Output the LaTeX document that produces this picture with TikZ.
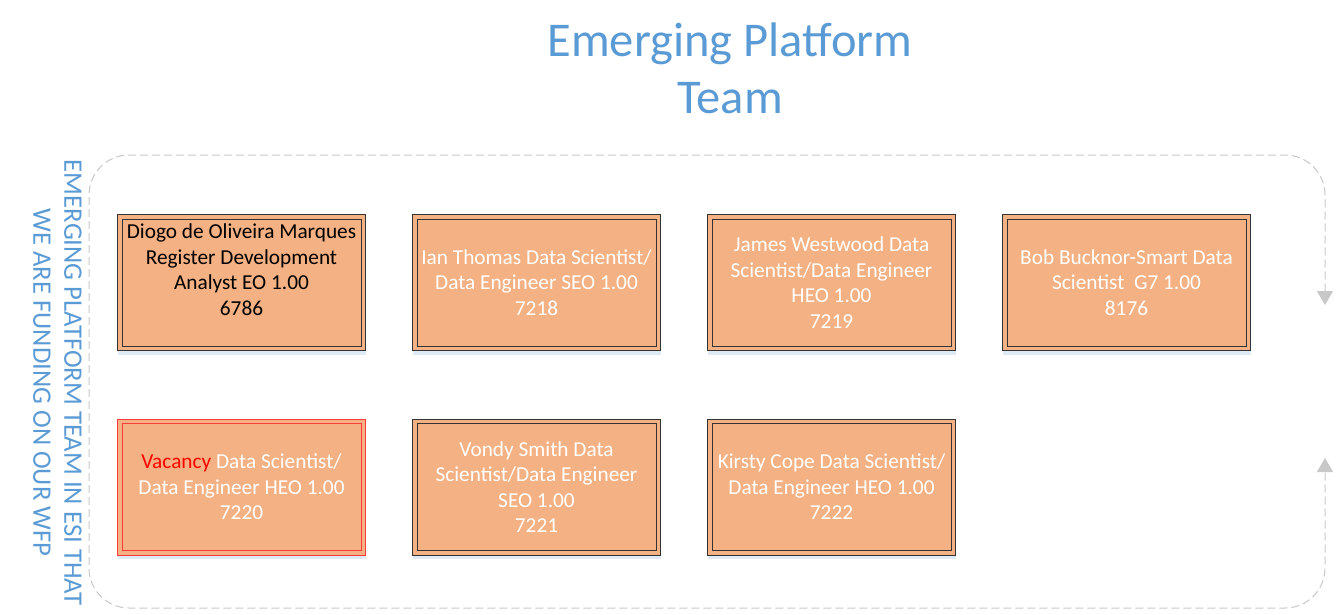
\documentclass[tikz,border=0pt]{standalone}
\usepackage{fontspec}
\setmainfont{Carlito}
\usepackage{tikz}
\usetikzlibrary{arrows.meta}
\usetikzlibrary{shadows}

\definecolor{postfill}{HTML}{F4B183}
\definecolor{titleblue}{HTML}{5B9BD5}
\definecolor{loopgray}{HTML}{C8C8C8}
\definecolor{glowblue}{HTML}{C9DCF0}
\definecolor{vacantred}{HTML}{FF3B3B}

\tikzset{
  postbox/.style={draw=black!80, line width=0.9pt, fill=postfill,
    minimum width=248pt, minimum height=136pt, inner sep=0pt,
    align=center, text=white, font=\fontsize{21.3}{25.5}\selectfont,
    drop shadow={shadow xshift=0pt, shadow yshift=-4pt, fill=glowblue, opacity=0.6}},
  vacantbox/.style={postbox, draw=vacantred},
  innerframe/.style={draw=black!80, line width=0.9pt},
  loopline/.style={draw=loopgray, line width=1pt, dash pattern=on 8pt off 4pt,
    rounded corners=40pt},
}

\begin{document}
\begin{tikzpicture}[x=1pt, y=-1pt]
\useasboundingbox (0,0) rectangle (1336,614);

\node[text=titleblue, align=center, font=\fontsize{48.5}{57}\selectfont] (title) at (730,68) {Emerging Platform\\Team};

\node[text=titleblue, align=center, rotate=-90, font=\fontsize{26.7}{31}\selectfont] (side) at (57.5,382.5) {EMERGING PLATFORM TEAM IN ESI THAT\\WE ARE FUNDING ON OUR WFP};

\coordinate (loopa) at (1325,305);
\coordinate (loopb) at (1325,458);
\draw[loopline, {Triangle[width=16pt,length=14pt,fill=loopgray]}-{Triangle[width=16pt,length=14pt,fill=loopgray]}]
  (loopa) -- (1325,155) -- (89,155) -- (89,608) -- (1325,608) -- (loopb);

\node[postbox, text=black] (diogo) at (241.5,282.5) {Diogo de Oliveira Marques\\Register Development\\Analyst EO 1.00\\6786\\\mbox{}};
\node[postbox] (ian) at (536.5,282.5) {Ian Thomas Data Scientist/\\Data Engineer SEO 1.00\\7218};
\node[postbox] (james) at (831.5,282.5) {James Westwood Data\\Scientist/Data Engineer\\HEO 1.00\\7219};
\node[postbox] (bob) at (1126.5,282.5) {Bob Bucknor-Smart Data\\Scientist\ \ G7 1.00\\8176};

\node[vacantbox] (vacancy) at (241.5,487) {\textcolor{red}{Vacancy} Data Scientist/\\Data Engineer HEO 1.00\\7220};
\node[postbox] (vondy) at (536.5,487) {Vondy Smith Data\\Scientist/Data Engineer\\SEO 1.00\\7221};
\node[postbox] (kirsty) at (831.5,487) {Kirsty Cope Data Scientist/\\Data Engineer HEO 1.00\\7222};

\foreach \post in {diogo,ian,james,bob,vondy,kirsty}
  \draw[innerframe] ([shift={(5pt,-5pt)}]\post.north west) rectangle ([shift={(-5pt,5pt)}]\post.south east);
\draw[innerframe, draw=vacantred] ([shift={(5pt,-5pt)}]vacancy.north west) rectangle ([shift={(-5pt,5pt)}]vacancy.south east);
\end{tikzpicture}
\end{document}
